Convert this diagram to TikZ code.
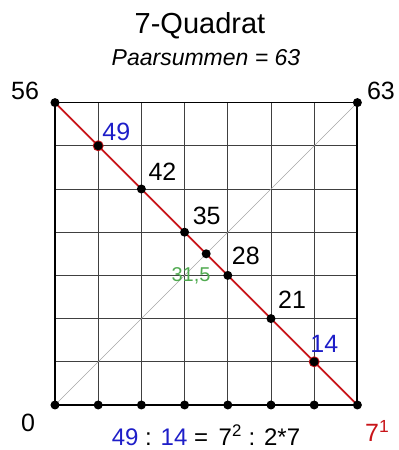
\documentclass[tikz,border=0pt]{standalone}
\usepackage{fontspec}
\setmainfont{Liberation Sans}
\usetikzlibrary{calc}

\definecolor{diagred}{RGB}{200,20,25}
\definecolor{numblue}{RGB}{30,30,200}
\definecolor{midgreen}{RGB}{80,170,80}

\begin{document}
\begin{tikzpicture}[x=43.2pt,y=43.2pt,
    gridline/.style={draw=black!75,line width=0.9pt},
    frame/.style={draw=black,line width=1.8pt},
    dot/.style={circle,fill=black,inner sep=0pt,minimum size=9pt},
    num/.style={font=\fontsize{25}{25}\selectfont,inner sep=0pt}]
  \useasboundingbox (-1.273,-1.042) rectangle (7.963,9.375);
  % grid
  \foreach \i in {1,...,6} {
    \draw[gridline] (\i,0) -- (\i,7);
    \draw[gridline] (0,\i) -- (7,\i);
  }
  \draw[frame] (0,0) rectangle (7,7);
  \draw[black,line width=2.6pt] (0,0) -- (7,0);
  \coordinate (O) at (0,0);
  \coordinate (TL) at (0,7);
  \coordinate (TR) at (7,7);
  \coordinate (BR) at (7,0);
  \coordinate (M) at ($(O)!0.5!(TR)$);
  \draw[black!35,line width=0.4pt] (O) -- (TR);
  \draw[diagred,line width=1.8pt] (TL) -- (BR);
  % dots
  \foreach \i in {0,...,7}
    \node[dot] (b\i) at (\i,0) {};
  \node[dot] (tl) at (TL) {};
  \node[dot] (tr) at (TR) {};
  \node[circle,fill=diagred,inner sep=0pt,minimum size=11pt] at (1,6) {};
  \node[circle,fill=diagred,inner sep=0pt,minimum size=11pt] at (6,1) {};
  \foreach \i in {1,...,6}
    \node[dot] (d\i) at (\i,7-\i) {};
  \node[dot] (m) at (M) {};
  % labels
  \foreach \i/\v/\c/\dx/\dy in {1/49/numblue/4/5, 2/42/black/7/8, 3/35/black/8/7,
                               4/28/black/4/10, 5/21/black/7/10, 6/14/numblue/-4/9}
    \node[num,text=\c,anchor=south west] at ($(d\i)+(\dx pt,\dy pt)$) {\v};
  \node[midgreen,font=\fontsize{20}{20}\selectfont,anchor=base] at (3.15,2.85) {31,5};
  \node[num,anchor=base] at (-0.694,7.08) {56};
  \node[num,anchor=base west] at (7.22,7.08) {63};
  \node[num,anchor=base] at (-0.625,-0.625) {0};
  \node[num,diagred,anchor=base west] at (7.176,-0.856) {7\textsuperscript{1}};
  \node[font=\fontsize{29}{29}\selectfont,anchor=base] at (3.356,8.61) {7-Quadrat};
  \node[font=\fontsize{23}{23}\selectfont\itshape,anchor=base] at (3.495,7.87) {Paarsummen = 63};
  \node[font=\fontsize{24}{24}\selectfont,anchor=base] at (3.495,-0.93)
    {\textcolor{numblue}{49} : \textcolor{numblue}{14} =\, 7\textsuperscript{2} : 2*7};
\end{tikzpicture}
\end{document}
